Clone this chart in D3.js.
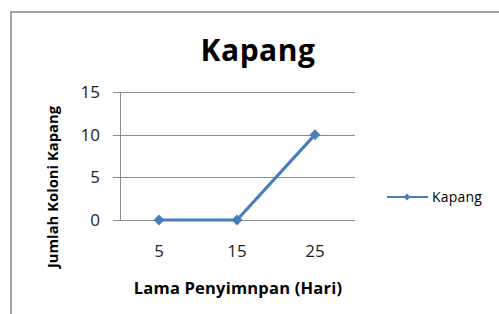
<!DOCTYPE html>
<html><head><meta charset="utf-8">
<script src="https://cdn.jsdelivr.net/npm/d3@7"></script>
<style>body{margin:0;background:#fff}svg{display:block}text{font-family:"Open Sans",sans-serif}</style>
</head><body>
<script>
const categories = ["5", "15", "25"];
const values = [0, 0, 10];
const yTicks = [0, 5, 10, 15];
const seriesName = "Kapang";
const titleText = "Kapang";
const xTitle = "Lama Penyimnpan (Hari)";
const yTitle = "Jumlah Koloni Kapang";

const W = 499, H = 314;
const svg = d3.select("body").append("svg").attr("width", W).attr("height", H);
svg.append("rect").attr("x", 11).attr("y", 12).attr("width", W).attr("height", H)
  .attr("fill", "#fff").attr("stroke", "#878787").attr("stroke-width", 1.5);

const x = d3.scaleBand().domain(categories).range([120, 354]);
const y = d3.scaleLinear().domain([0, 15]).range([220, 92]);

// gridlines
svg.append("g").selectAll("line").data(yTicks).join("line")
  .attr("x1", 113).attr("x2", 355).attr("y1", d => Math.round(y(d)) + 0.5).attr("y2", d => Math.round(y(d)) + 0.5)
  .attr("stroke", "#8c8c8c").attr("stroke-width", 1);
svg.append("line").attr("x1", 120.5).attr("x2", 120.5).attr("y1", y(15)).attr("y2", y(0))
  .attr("stroke", "#8c8c8c");

svg.append("g").selectAll("text").data(yTicks).join("text")
  .attr("x", 100).attr("y", d => y(d)).attr("dy", "0.36em").attr("text-anchor", "end")
  .attr("font-size", 17).attr("fill", "#222").text(d => d);
svg.append("g").selectAll("text").data(categories).join("text")
  .attr("x", d => x(d) + x.bandwidth() / 2).attr("y", 251).attr("dy", "0.36em").attr("text-anchor", "middle")
  .attr("font-size", 17).attr("fill", "#222").text(d => d);

const blue = "#4a7ebb";
const pts = categories.map((c, i) => [x(c) + x.bandwidth() / 2, y(values[i])]);
svg.append("path").attr("d", d3.line()(pts)).attr("fill", "none").attr("stroke", blue).attr("stroke-width", 3.2);
const diamond = d3.symbol().type(d3.symbolDiamond2).size(75);
svg.append("g").selectAll("path").data(pts).join("path")
  .attr("transform", d => `translate(${d[0]},${d[1]})`).attr("d", diamond).attr("fill", blue);

svg.append("text").attr("x", 258).attr("y", 50).attr("dy", "0.36em").attr("text-anchor", "middle")
  .attr("font-size", 30).attr("font-weight", "bold").attr("letter-spacing", 0.5).attr("fill", "#000").text(titleText);
svg.append("text").attr("x", 238).attr("y", 288).attr("dy", "0.36em").attr("text-anchor", "middle")
  .attr("font-size", 16.5).attr("font-weight", "bold").attr("letter-spacing", 0.2).attr("fill", "#000").text(xTitle);
svg.append("text").attr("transform", "translate(53,187) rotate(-90)").attr("dy", "0.36em").attr("text-anchor", "middle")
  .attr("font-size", 14.8).attr("font-weight", "bold").attr("fill", "#000").text(yTitle);

// legend
svg.append("line").attr("x1", 387).attr("x2", 428).attr("y1", 197).attr("y2", 197).attr("stroke", blue).attr("stroke-width", 2);
svg.append("path").attr("transform", "translate(407,197)").attr("d", d3.symbol().type(d3.symbolDiamond2).size(30)).attr("fill", blue);
svg.append("text").attr("x", 432).attr("y", 197).attr("dy", "0.36em").attr("font-size", 14).attr("letter-spacing", 0.2).attr("fill", "#000").text(seriesName);
</script>
</body></html>
